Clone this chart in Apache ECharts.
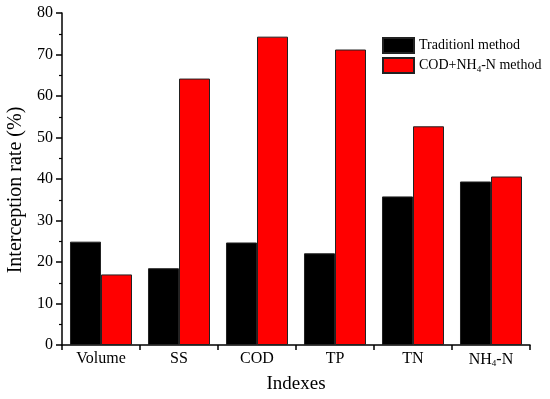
<!DOCTYPE html>
<html>
<head>
<meta charset="utf-8">
<script src="https://cdn.jsdelivr.net/npm/echarts@6/dist/echarts.min.js"></script>
<style>
html,body{margin:0;padding:0;background:#fff;}
#chart{width:550px;height:399px;}
</style>
</head>
<body>
<div id="chart"></div>
<script>
const categories = ['Volume', 'SS', 'COD', 'TP', 'TN', 'NH4-N'];
const traditionalValues = [24.9, 18.5, 24.7, 22.1, 35.8, 39.4];
const codNh4Values = [17.0, 64.2, 74.3, 71.2, 52.7, 40.6];
const seriesNames = ['Traditionl method', 'COD+NH4-N method'];
const yTicks = {min: 0, max: 80, interval: 10};

const font = '"Liberation Serif", "Times New Roman", serif';
const subRich = {
  sub: {fontSize: 9, fontFamily: font, color: '#000', verticalAlign: 'bottom', padding: [8, 0, 0, 0]}
};
function subscript(s) {
  return s.replace('NH4', 'NH{sub|4}');
}

const chart = echarts.init(document.getElementById('chart'), null, {renderer: 'canvas'});
chart.setOption({
  animation: false,
  backgroundColor: '#fff',
  grid: {left: 62, right: 20, top: 13, bottom: 54, containLabel: false, outerBoundsMode: 'none'},
  legend: {
    orient: 'vertical',
    left: 382,
    top: 37,
    padding: 0,
    itemWidth: 31,
    itemHeight: 15,
    itemGap: 3,
    icon: 'rect',
    data: seriesNames,
    formatter: subscript,
    textStyle: {fontFamily: font, fontSize: 14, color: '#000', rich: subRich}
  },
  xAxis: {
    type: 'category',
    data: categories,
    name: 'Indexes',
    nameLocation: 'middle',
    nameGap: 30,
    nameTextStyle: {fontFamily: font, fontSize: 19, color: '#000'},
    axisLine: {lineStyle: {color: '#000', width: 1.5}},
    axisTick: {show: true, inside: false, length: 5, lineStyle: {color: '#000', width: 1.5}},
    axisLabel: {
      interval: 0,
      margin: 6,
      fontFamily: font, fontSize: 16, color: '#000',
      formatter: subscript,
      rich: subRich
    },
    splitLine: {show: false}
  },
  yAxis: {
    type: 'value',
    min: yTicks.min,
    max: yTicks.max,
    interval: yTicks.interval,
    name: 'Interception rate (%)',
    nameLocation: 'middle',
    nameGap: 28,
    nameTextStyle: {fontFamily: font, fontSize: 20, color: '#000', padding: [0, 22, 0, 0]},
    axisLine: {show: true, lineStyle: {color: '#000', width: 1.5}},
    axisTick: {show: true, inside: false, length: 6, lineStyle: {color: '#000', width: 1.5}},
    minorTick: {show: true, splitNumber: 2, length: 3, lineStyle: {color: '#000', width: 1.2}},
    axisLabel: {margin: 9, fontFamily: font, fontSize: 16, color: '#000'},
    splitLine: {show: false}
  },
  series: [
    {
      name: seriesNames[0],
      type: 'bar',
      data: traditionalValues,
      barGap: '0%',
      barCategoryGap: '20.5%',
      itemStyle: {color: '#000', borderColor: '#222', borderWidth: 1}
    },
    {
      name: seriesNames[1],
      type: 'bar',
      data: codNh4Values,
      barGap: '0%',
      barCategoryGap: '20.5%',
      itemStyle: {color: '#ff0000', borderColor: '#222', borderWidth: 1}
    }
  ]
});
</script>
</body>
</html>
